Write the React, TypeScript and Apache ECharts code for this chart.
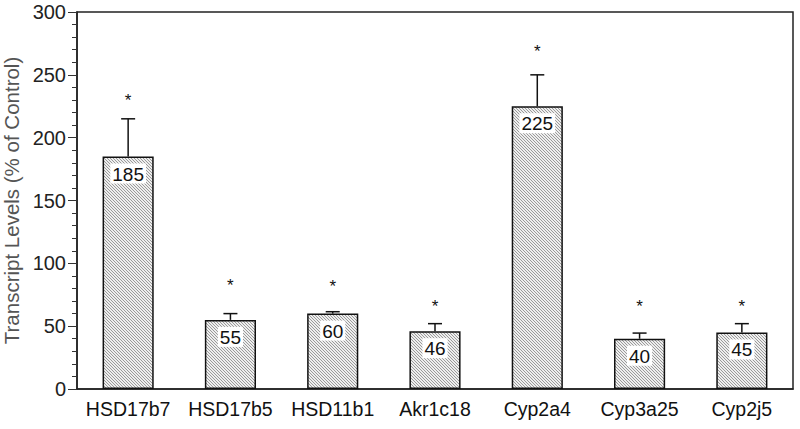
import React, { useEffect, useRef } from "react";
import * as echarts from "echarts";

const categories = ["HSD17b7", "HSD17b5", "HSD11b1", "Akr1c18", "Cyp2a4", "Cyp3a25", "Cyp2j5"];
const values = [185, 55, 60, 46, 225, 40, 45];
const errors = [30, 5, 1.5, 6, 25, 4.5, 7];
const asteriskLevels = [231, 84, 83, 67, 270, 67, 67];
const yTicks = { min: 0, max: 300, interval: 50 };

function makeHatch(): string {
  const c = document.createElement("canvas");
  c.width = 3;
  c.height = 3;
  const ctx = c.getContext("2d")!;
  ctx.fillStyle = "#eeeeee";
  ctx.fillRect(0, 0, 3, 3);
  ctx.fillStyle = "#9a9a9a";
  for (let i = 0; i < 3; i++) ctx.fillRect(i, i, 1, 1);
  return c.toDataURL();
}

export default function App() {
  const ref = useRef<HTMLDivElement>(null);
  useEffect(() => {
    if (!ref.current) return;
    const chart = echarts.init(ref.current, null, { renderer: "svg" });
    const img = new Image();
    img.src = makeHatch();
    const font = "Liberation Sans, Arial, sans-serif";
    chart.setOption({
      animation: false,
      backgroundColor: "#fff",
      grid: {
        left: 77, right: 7, top: 12, bottom: 40,
        containLabel: false, outerBoundsMode: "none",
        show: true, borderColor: "#222", borderWidth: 1.5, backgroundColor: "transparent",
      },
      xAxis: {
        type: "category",
        data: categories,
        axisLine: { lineStyle: { color: "#222", width: 1.5 } },
        axisTick: { show: false },
        axisLabel: { interval: 0, fontSize: 19.5, color: "#111", margin: 10, fontFamily: font },
      },
      yAxis: {
        type: "value",
        min: yTicks.min,
        max: yTicks.max,
        interval: yTicks.interval,
        name: "Transcript Levels (% of Control)",
        nameLocation: "middle",
        nameGap: 54,
        nameTextStyle: { fontSize: 20.5, color: "#555", fontFamily: font },
        axisLine: { show: true, lineStyle: { color: "#222", width: 1.5 } },
        axisTick: { show: true, length: 9, lineStyle: { color: "#333", width: 1 } },
        minorTick: { show: true, splitNumber: 5, length: 5, lineStyle: { color: "#333", width: 1 } },
        splitLine: { show: false },
        axisLabel: { fontSize: 20, color: "#222", margin: 11, fontFamily: font },
      },
      series: [
        {
          type: "bar",
          data: values,
          barWidth: "50%",
          itemStyle: { color: { image: img, repeat: "repeat" }, borderColor: "#111", borderWidth: 1.5 },
          label: {
            show: true,
            position: "insideTop",
            distance: 7,
            fontSize: 19,
            color: "#111",
            fontFamily: font,
            backgroundColor: "#fff",
            padding: [1, 2, 0, 2],
          },
          z: 2,
        },
        {
          type: "custom",
          data: values.map((v, i) => [i, v, v + errors[i]]),
          renderItem: (params: any, api: any) => {
            const x = api.value(0);
            const base = api.coord([x, api.value(1)]);
            const top = api.coord([x, api.value(2)]);
            const half = 7;
            return {
              type: "group",
              children: [
                { type: "line", shape: { x1: base[0], y1: base[1], x2: top[0], y2: top[1] }, style: { stroke: "#111", lineWidth: 1.5 } },
                { type: "line", shape: { x1: top[0] - half, y1: top[1], x2: top[0] + half, y2: top[1] }, style: { stroke: "#111", lineWidth: 1.5 } },
              ],
            };
          },
          z: 3,
        },
        {
          type: "custom",
          data: asteriskLevels.map((v, i) => [i, v]),
          renderItem: (params: any, api: any) => {
            const p = api.coord([api.value(0), api.value(1)]);
            return {
              type: "text",
              x: p[0],
              y: p[1] + 2,
              style: { text: "*", fontSize: 17, fill: "#111", align: "center", verticalAlign: "middle", fontFamily: font },
            };
          },
          z: 3,
        },
      ],
    });
    return () => chart.dispose();
  }, []);
  return <div ref={ref} style={{ width: 800, height: 429, position: "absolute", left: 0, top: 0 }} />;
}
